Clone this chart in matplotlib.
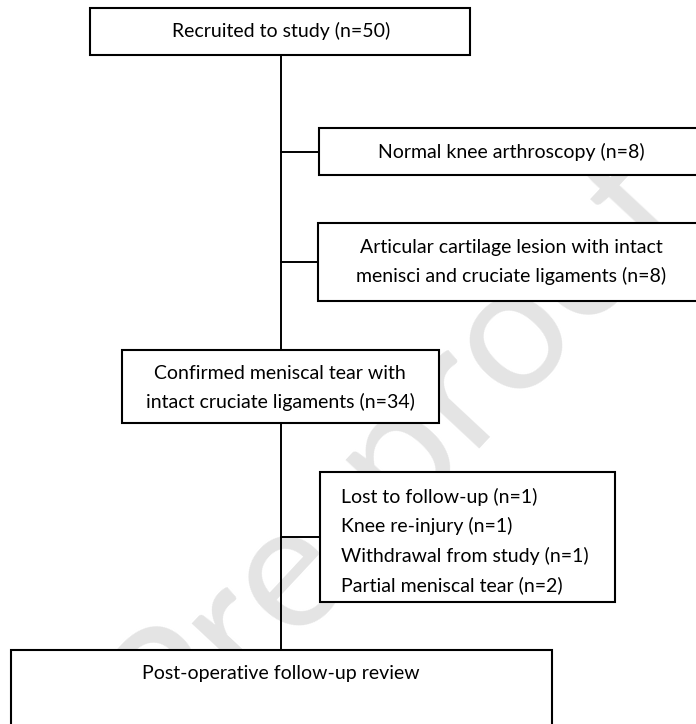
import matplotlib.pyplot as plt
from matplotlib.patches import Rectangle

# Box texts of the flow diagram
box_texts = [
    "Recruited to study (n=50)",
    "Normal knee arthroscopy (n=8)",
    "Articular cartilage lesion with intact\nmenisci and cruciate ligaments (n=8)",
    "Confirmed meniscal tear with\nintact cruciate ligaments (n=34)",
    "Lost to follow-up (n=1)\nKnee re-injury (n=1)\nWithdrawal from study (n=1)\nPartial meniscal tear (n=2)",
    "Post-operative follow-up review",
]
watermark = "Pre-proof"

# Layout in pixels: (x0, y0, x1, y1), text anchor and alignment
boxes = [
    (90, 8, 470, 55),
    (319, 128, 710, 175),
    (318, 223, 710, 301),
    (122, 350, 439, 423),
    (320, 472, 615, 602),
    (11, 650, 552, 740),
]
text_pos = [
    (281, 31, "center"),
    (511, 152, "center"),
    (511, 262, "center"),
    (280, 388, "center"),
    (341, 541, "left"),
    (281, 673, "center"),
]
spine_x = 281
branches = [(152, 319), (262, 318), (537, 320)]

W, H = 696, 724
fig = plt.figure(figsize=(W / 100, H / 100), dpi=100)
ax = fig.add_axes([0, 0, 1, 1])
ax.set_xlim(0, W)
ax.set_ylim(H, 0)
ax.axis("off")

font = ["Lato", "DejaVu Sans"]

# watermark sits behind the (white filled) boxes
ax.text(395, 448, watermark, fontsize=128, color="#e4e4e4", rotation=47,
        ha="center", va="center", family=["Lato", "DejaVu Sans"], zorder=0)

for (x0, y0, x1, y1) in boxes:
    ax.add_patch(Rectangle((x0, y0), x1 - x0, y1 - y0, facecolor="white",
                           edgecolor="black", lw=1.5, zorder=2))

for txt, (x, y, ha) in zip(box_texts, text_pos):
    ax.text(x, y, txt, ha=ha, va="center", fontsize=14, family=font,
            linespacing=1.75, zorder=3)

# main vertical line and side branches
ax.plot([spine_x, spine_x], [boxes[0][3], boxes[3][1]], color="black", lw=1.4, zorder=1)
ax.plot([spine_x, spine_x], [boxes[3][3], boxes[5][1]], color="black", lw=1.4, zorder=1)
for y, xe in branches:
    ax.plot([spine_x, xe], [y, y], color="black", lw=1.4, zorder=1)

fig.savefig("out.png", dpi=100)
